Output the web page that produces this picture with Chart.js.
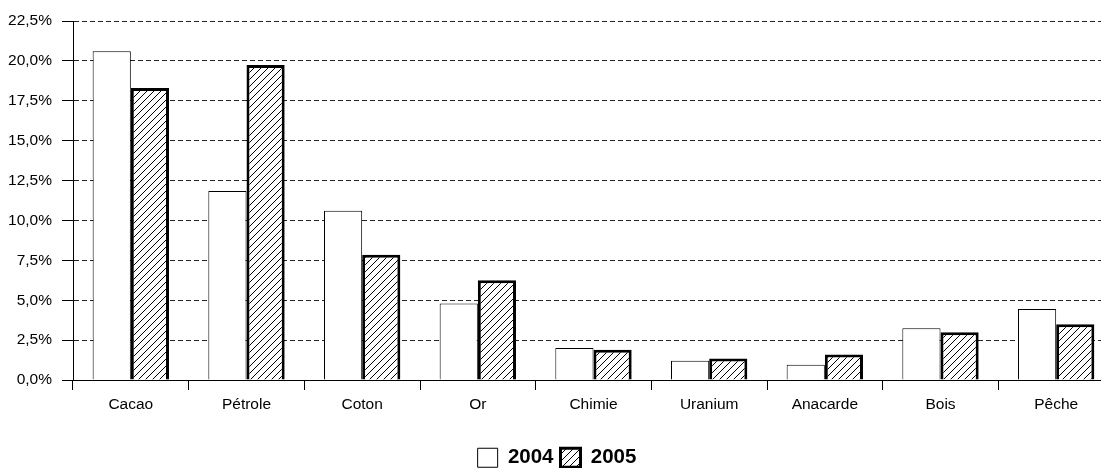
<!DOCTYPE html>
<html>
<head>
<meta charset="utf-8">
<title>Exportations 2004-2005</title>
<script src="https://cdn.jsdelivr.net/npm/chart.js@4"></script>
<style>
  html, body { margin: 0; padding: 0; background: #fff; overflow: hidden; }
  #wrap { position: absolute; left: 0; top: 0; width: 1120px; height: 478px; }
</style>
</head>
<body>
<div id="wrap"><canvas id="myChart" width="1120" height="478"></canvas></div>
<script>
const categories = ["Cacao", "Pétrole", "Coton", "Or", "Chimie", "Uranium", "Anacarde", "Bois", "Pêche"];
const values2004 = [20.6, 11.85, 10.6, 4.8, 2.0, 1.2, 0.95, 3.25, 4.45];
const values2005 = [18.3, 19.75, 7.85, 6.25, 1.9, 1.35, 1.6, 3.0, 3.5];
const seriesLabels = ["2004", "2005"];

// diagonal hatch fill for the 2005 bars
function hatchPattern() {
  const size = 7;
  const c = document.createElement("canvas");
  c.width = size;
  c.height = size;
  const g = c.getContext("2d");
  g.fillStyle = "#fff";
  g.fillRect(0, 0, size, size);
  g.strokeStyle = "#000";
  g.lineWidth = 1;
  g.beginPath();
  g.moveTo(0, size);
  g.lineTo(size, 0);
  g.moveTo(-1, 1);
  g.lineTo(1, -1);
  g.moveTo(size - 1, size + 1);
  g.lineTo(size + 1, size - 1);
  g.stroke();
  return g.createPattern(c, "repeat");
}

const font = "'Liberation Sans', Arial, sans-serif";
const chartTop = 21;
const chartBottom = 380;

const chart = new Chart(document.getElementById("myChart"), {
  type: "bar",
  data: {
    labels: categories,
    datasets: [
      {
        label: seriesLabels[0],
        data: values2004,
        backgroundColor: "#fff",
        borderColor: "#000",
        borderWidth: 1,
        categoryPercentage: 0.66,
        barPercentage: 1.0,
      },
      {
        label: seriesLabels[1],
        data: values2005,
        backgroundColor: hatchPattern(),
        borderColor: "#000",
        borderWidth: 3,
        categoryPercentage: 0.66,
        barPercentage: 1.0,
      },
    ],
  },
  options: {
    responsive: false,
    animation: false,
    devicePixelRatio: 1,
    layout: { padding: { top: chartTop, left: 0, right: 6, bottom: 0 } },
    plugins: {
      tooltip: { enabled: false },
      title: { display: false },
      legend: {
        position: "bottom",
        labels: {
          color: "#000",
          font: { family: font, size: 20.5, weight: "bold" },
          boxWidth: 20,
          boxHeight: 19,
          padding: 7,
        },
      },
    },
    scales: {
      x: {
        grid: {
          display: true,
          drawOnChartArea: false,
          offset: true,
          color: "#000",
          tickLength: 10,
        },
        border: { display: true, color: "#000", width: 1 },
        ticks: { color: "#000", font: { family: font, size: 15.5 }, padding: 5, maxRotation: 0 },
        afterFit(scale) {
          scale.height = scale.chart.height - scale.chart.legend.height - chartBottom;
        },
      },
      y: {
        min: 0,
        max: 22.5,
        ticks: {
          stepSize: 2.5,
          color: "#000",
          padding: 10,
          font: { family: font, size: 15.5 },
          callback: (v) => v.toFixed(1).replace(".", ",") + "%",
        },
        grid: {
          color: "#222",
          tickColor: "#000",
          tickLength: 11,
          tickBorderDash: [],
        },
        border: { display: true, color: "#000", width: 1, dash: [5, 3] },
        afterFit(scale) {
          scale.width = 73;
        },
      },
    },
  },
});
</script>
</body>
</html>
